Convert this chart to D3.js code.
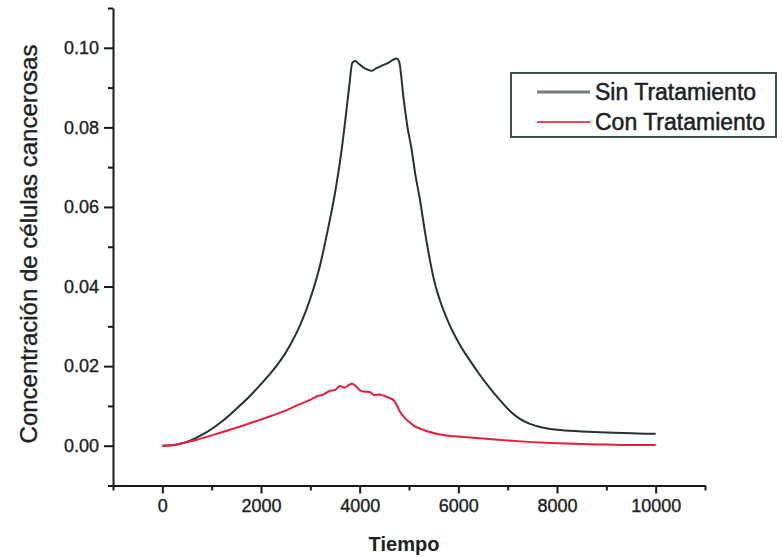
<!DOCTYPE html>
<html>
<head>
<meta charset="utf-8">
<script src="https://cdn.jsdelivr.net/npm/d3@7"></script>
<style>
  body { margin: 0; background: #fff; }
  svg text { font-family: "Liberation Sans", Arial, sans-serif; fill: #1a2222; }
</style>
</head>
<body>
<div id="chart"></div>
<script>
// Sin Tratamiento (curva negra)
const sinTime = [0, 300, 550, 800, 1000, 1200, 1400, 1600, 1800, 2000, 2200, 2400, 2600, 2800, 3000, 3200, 3350, 3500, 3620, 3720, 3790, 3850, 3910, 3980, 4080, 4160, 4240, 4330, 4450, 4580, 4680, 4750, 4800, 4890, 4970, 5050, 5130, 5220, 5320, 5420, 5520, 5620, 5800, 6030, 6230, 6430, 6640, 6840, 7040, 7240, 7450, 7700, 8000, 8500, 9000, 9500, 10000];
const sinVal = [0, 0.0003, 0.0012, 0.0027, 0.0042, 0.006, 0.0081, 0.0104, 0.0128, 0.0155, 0.0183, 0.0215, 0.0255, 0.0305, 0.037, 0.0455, 0.054, 0.0635, 0.073, 0.083, 0.0905, 0.0962, 0.0967, 0.0960, 0.0950, 0.0945, 0.0942, 0.0948, 0.0955, 0.0962, 0.0970, 0.0973, 0.0965, 0.0873, 0.080, 0.0747, 0.068, 0.062, 0.054, 0.0469, 0.041, 0.0368, 0.031, 0.0254, 0.0215, 0.0179, 0.0145, 0.0115, 0.0088, 0.0068, 0.0055, 0.0046, 0.004, 0.0036, 0.0033, 0.0031, 0.003];

// Con Tratamiento (curva roja)
const conTime = [0, 200, 400, 700, 1000, 1500, 2000, 2500, 2800, 3000, 3150, 3250, 3400, 3500, 3600, 3700, 3780, 3850, 3920, 4000, 4080, 4200, 4300, 4400, 4500, 4600, 4700, 4760, 4820, 4900, 5000, 5100, 5250, 5400, 5600, 5800, 6100, 6500, 7000, 7500, 8000, 8500, 9000, 9500, 10000];
const conVal = [0, 0.0001, 0.0006, 0.0015, 0.0026, 0.0045, 0.0066, 0.0088, 0.0105, 0.0115, 0.0125, 0.0128, 0.0138, 0.0140, 0.0150, 0.0146, 0.0153, 0.0156, 0.0150, 0.0140, 0.0136, 0.0135, 0.0127, 0.0129, 0.0125, 0.0120, 0.0113, 0.0100, 0.0085, 0.0072, 0.0060, 0.0050, 0.0042, 0.0035, 0.0029, 0.0025, 0.0022, 0.0018, 0.0013, 0.0009, 0.0006, 0.0004, 0.0003, 0.0002, 0.0002];

const xTicks = [0, 2000, 4000, 6000, 8000, 10000];
const xMinor = [-1000, 1000, 3000, 5000, 7000, 9000, 11000];
const yTicks = [0, 0.02, 0.04, 0.06, 0.08, 0.10];
const yMinor = [-0.01, 0.01, 0.03, 0.05, 0.07, 0.09, 0.11];

const seriesNames = ["Sin Tratamiento", "Con Tratamiento"];

const width = 783, height = 558;
const x = d3.scaleLinear().domain([-1000, 11000]).range([113, 705]);
const y = d3.scaleLinear().domain([-0.01, 0.11]).range([485.5, 8]);

const svg = d3.select("#chart").append("svg")
    .attr("width", width)
    .attr("height", height);

// ejes
const axisStyle = g => {
    g.selectAll("path, line").attr("stroke", "#141a1a").attr("stroke-width", 2);
    g.selectAll("text").attr("font-size", 18).attr("fill", "#1a2222")
        .attr("stroke", "#1a2222").attr("stroke-width", 0.35)
        .attr("font-family", "Liberation Sans, Arial, sans-serif");
};

svg.append("g")
    .attr("transform", `translate(0,${y(-0.01)})`)
    .call(d3.axisBottom(x).tickValues(xMinor).tickSize(5).tickSizeOuter(0).tickFormat(""))
    .call(axisStyle);
svg.append("g")
    .attr("transform", `translate(0,${y(-0.01)})`)
    .call(d3.axisBottom(x).tickValues(xTicks).tickSize(8).tickSizeOuter(0).tickPadding(6).tickFormat(d3.format("d")))
    .call(axisStyle)
    .select(".domain").remove();

svg.append("g")
    .attr("transform", `translate(${x(-1000)},0)`)
    .call(d3.axisLeft(y).tickValues(yMinor).tickSize(5).tickSizeOuter(0).tickFormat(""))
    .call(axisStyle);
svg.append("g")
    .attr("transform", `translate(${x(-1000)},0)`)
    .call(d3.axisLeft(y).tickValues(yTicks).tickSize(9).tickSizeOuter(0).tickPadding(5).tickFormat(d3.format(".2f")))
    .call(axisStyle)
    .select(".domain").remove();

// titulos
svg.append("text")
    .attr("x", 404).attr("y", 551)
    .attr("text-anchor", "middle")
    .attr("font-size", 20).attr("font-weight", "bold")
    .text("Tiempo");

svg.append("text")
    .attr("transform", `translate(37,244) rotate(-90)`)
    .attr("text-anchor", "middle")
    .attr("font-size", 24)
    .attr("stroke", "#1a2222").attr("stroke-width", 0.35)
    .text("Concentración de células cancerosas");

// curvas
const line = d3.line().x(d => x(d[0])).y(d => y(d[1])).curve(d3.curveMonotoneX);

svg.append("path")
    .datum(sinTime.map((t, i) => [t, sinVal[i]]))
    .attr("fill", "none")
    .attr("stroke", "#243232")
    .attr("stroke-width", 2)
    .attr("d", line);

svg.append("path")
    .datum(conTime.map((t, i) => [t, conVal[i]]))
    .attr("fill", "none")
    .attr("stroke", "#ea1c3c")
    .attr("stroke-width", 2)
    .attr("d", line);

// leyenda
const legend = svg.append("g");
legend.append("rect")
    .attr("x", 511).attr("y", 73)
    .attr("width", 265).attr("height", 64)
    .attr("fill", "#fff")
    .attr("stroke", "#3d4f4f")
    .attr("stroke-width", 2);

const legendColors = ["#747c7c", "#e8485a"];
seriesNames.forEach((name, i) => {
    const ly = 92 + i * 30;
    legend.append("line")
        .attr("x1", 537).attr("x2", 590)
        .attr("y1", ly).attr("y2", ly)
        .attr("stroke", legendColors[i])
        .attr("stroke-width", i === 0 ? 3 : 2);
    legend.append("text")
        .attr("x", 595).attr("y", ly + 8)
        .attr("font-size", 23)
        .attr("stroke", "#1a2222").attr("stroke-width", 0.5)
        .text(name);
});
</script>
</body>
</html>
